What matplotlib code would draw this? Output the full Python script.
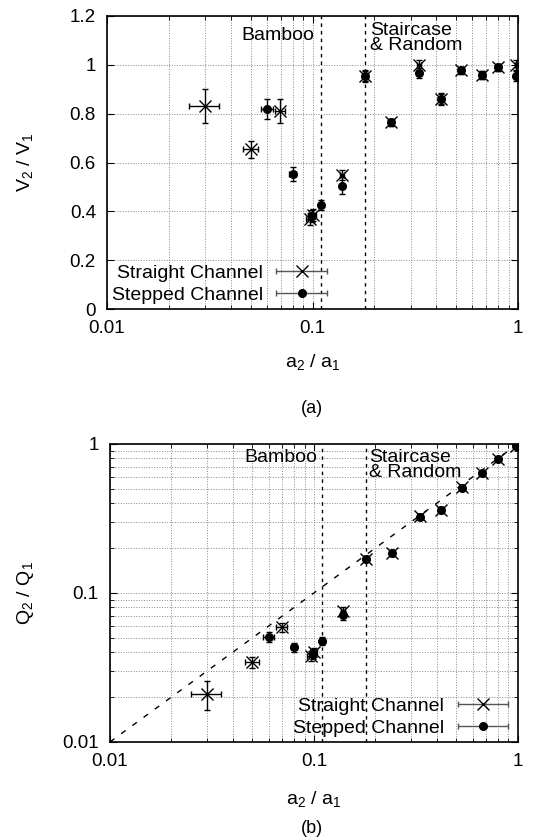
import numpy as np
import matplotlib
matplotlib.use("Agg")
import matplotlib.pyplot as plt
from matplotlib.ticker import FuncFormatter, NullFormatter
from matplotlib.container import ErrorbarContainer
from matplotlib.legend_handler import HandlerErrorbar

plt.rcParams['font.family'] = ['Liberation Sans', 'DejaVu Sans']

# area ratio a2/a1
a_straight = [0.030, 0.050, 0.0695, 0.097, 0.100, 0.139, 0.18, 0.241, 0.33, 0.42, 0.53, 0.667, 0.80, 0.98]
a_stepped = [0.060, 0.080, 0.099, 0.110, 0.139, 0.18, 0.241, 0.33, 0.42, 0.53, 0.667, 0.80, 0.98]
a_err_straight = [0.005, 0.004, 0.004, 0.004, 0.004, 0.003, 0.004, 0.005, 0.006, 0.007, 0.008, 0.01, 0.01, 0.012]
a_err_stepped = [0.004, 0.003, 0.004, 0.003, 0.003, 0.004, 0.005, 0.006, 0.007, 0.008, 0.01, 0.01, 0.012]

# velocity ratio V2/V1
v_straight = [0.831, 0.655, 0.81, 0.37, 0.385, 0.55, 0.955, 0.764, 1.0, 0.86, 0.978, 0.958, 0.99, 1.0]
v_err_straight = [0.07, 0.035, 0.05, 0.025, 0.025, 0.02, 0.025, 0.015, 0.02, 0.025, 0.015, 0.015, 0.015, 0.02]
v_stepped = [0.82, 0.553, 0.38, 0.426, 0.506, 0.955, 0.764, 0.965, 0.86, 0.978, 0.958, 0.99, 0.955]
v_err_stepped = [0.04, 0.028, 0.025, 0.02, 0.035, 0.02, 0.015, 0.02, 0.02, 0.015, 0.015, 0.015, 0.02]

# flow ratio Q2/Q1
q_straight = [0.021, 0.0344, 0.059, 0.038, 0.040, 0.076, 0.169, 0.185, 0.329, 0.36, 0.514, 0.638, 0.79, 0.97]
q_err_straight = [0.0045, 0.003, 0.004, 0.003, 0.003, 0.005, 0.008, 0.008, 0.012, 0.015, 0.015, 0.02, 0.02, 0.03]
q_stepped = [0.0507, 0.0434, 0.039, 0.0476, 0.071, 0.169, 0.185, 0.325, 0.36, 0.51, 0.64, 0.79, 0.97]
q_err_stepped = [0.004, 0.003, 0.003, 0.003, 0.005, 0.008, 0.008, 0.012, 0.015, 0.015, 0.02, 0.02, 0.03]

regime_bounds = [0.11, 0.18]
ideal = [0.01, 1.0]

fig = plt.figure(figsize=(5.58, 8.40), dpi=100)
ax1 = fig.add_axes([0.1918, 0.632, 0.7366, 0.349])
ax2 = fig.add_axes([0.197, 0.1167, 0.731, 0.3548])

eb = dict(color='black', ecolor='black', elinewidth=1.0, capsize=2.5, capthick=1.0, linestyle='none')


def style_axes(ax):
    ax.set_xscale('log')
    ax.set_xlim(0.01, 1)
    ax.xaxis.set_major_formatter(FuncFormatter(lambda v, p: f"{v:g}"))
    ax.xaxis.set_minor_formatter(NullFormatter())
    ax.tick_params(which='both', direction='in', top=True, right=True, labelsize=13.5, pad=8)
    ax.tick_params(which='major', length=5)
    ax.tick_params(which='minor', length=3)
    ax.grid(True, which='both', axis='x', color='#888888', linestyle=':', linewidth=0.7)
    ax.grid(True, which='major', axis='y', color='#888888', linestyle=':', linewidth=0.7)
    for s in ax.spines.values():
        s.set_linewidth(1.2)
    for b in regime_bounds:
        ax.axvline(b, color='black', linestyle=(0, (2.5, 3)), linewidth=1.0)
    ax.set_xlabel('a$_\\mathregular{2}$ / a$_\\mathregular{1}$', fontsize=14)
    ax.set_axisbelow(True)


# panel (a)
style_axes(ax1)
ax1.set_ylim(0, 1.2)
ax1.set_yticks(np.arange(0, 1.21, 0.2))
ax1.yaxis.set_major_formatter(FuncFormatter(lambda v, p: f"{v:g}"))
ax1.errorbar(a_straight, v_straight, xerr=a_err_straight, yerr=v_err_straight, marker='x', markersize=8, markeredgewidth=1.0, **eb)
ax1.errorbar(a_stepped, v_stepped, xerr=a_err_stepped, yerr=v_err_stepped, marker='o', markersize=5.5, **eb)
ax1.set_ylabel('V$_\\mathregular{2}$ / V$_\\mathregular{1}$', fontsize=14)
ax1.yaxis.set_label_coords(-0.172, 0.5)
ax1.xaxis.set_label_coords(0.5, -0.147)
ax1.text(0.416, 0.935, 'Bamboo', transform=ax1.transAxes, ha='center', va='center', fontsize=14)
ax1.text(0.64, 0.978, 'Staircase\n& Random', transform=ax1.transAxes, ha='left', va='top', fontsize=14, linespacing=0.85)

# panel (b)
style_axes(ax2)
ax2.set_yscale('log')
ax2.set_ylim(0.01, 1)
ax2.yaxis.set_major_formatter(FuncFormatter(lambda v, p: f"{v:g}"))
ax2.yaxis.set_minor_formatter(NullFormatter())
ax2.grid(True, which='minor', axis='y', color='#888888', linestyle=':', linewidth=0.7)
ax2.plot(ideal, ideal, color='black', linestyle=(0, (4, 6)), linewidth=1.0)
ax2.errorbar(a_straight, q_straight, xerr=a_err_straight, yerr=q_err_straight, marker='x', markersize=8, markeredgewidth=1.0, **eb)
ax2.errorbar(a_stepped, q_stepped, xerr=a_err_stepped, yerr=q_err_stepped, marker='o', markersize=5.5, **eb)
ax2.set_ylabel('Q$_\\mathregular{2}$ / Q$_\\mathregular{1}$', fontsize=14)
ax2.yaxis.set_label_coords(-0.181, 0.5)
ax2.xaxis.set_label_coords(0.5, -0.161)
ax2.text(0.42, 0.953, 'Bamboo', transform=ax2.transAxes, ha='center', va='center', fontsize=14)
ax2.text(0.635, 0.983, 'Staircase\n& Random', transform=ax2.transAxes, ha='left', va='top', fontsize=14, linespacing=0.85)

# legend proxies
for ax, loc, anchor in [(ax1, 'lower left', (-0.022, -0.03)), (ax2, 'lower right', (1.015, -0.03))]:
    h1 = ax.errorbar([np.nan], [np.nan], xerr=[1], marker='x', markersize=8, color='black', ecolor='#555555', elinewidth=1.0, capsize=2.5, linestyle='none')
    h2 = ax.errorbar([np.nan], [np.nan], xerr=[1], marker='o', markersize=5.5, color='black', ecolor='#555555', elinewidth=1.0, capsize=2.5, linestyle='none')
    leg = ax.legend([h1, h2], ['Straight Channel', 'Stepped Channel'], loc=loc, bbox_to_anchor=anchor, frameon=False, markerfirst=False,
                    fontsize=14, handlelength=2.8, handletextpad=0.6, labelspacing=0.25, borderaxespad=0.3,
                    handler_map={ErrorbarContainer: HandlerErrorbar(xerr_size=1.3)})
    for t in leg.get_texts():
        t.set_ha('right')

fig.text(0.559, 0.514, '(a)', ha='center', va='center', fontsize=13)
fig.text(0.559, 0.014, '(b)', ha='center', va='center', fontsize=13)

fig.savefig('out.png', dpi=100)
